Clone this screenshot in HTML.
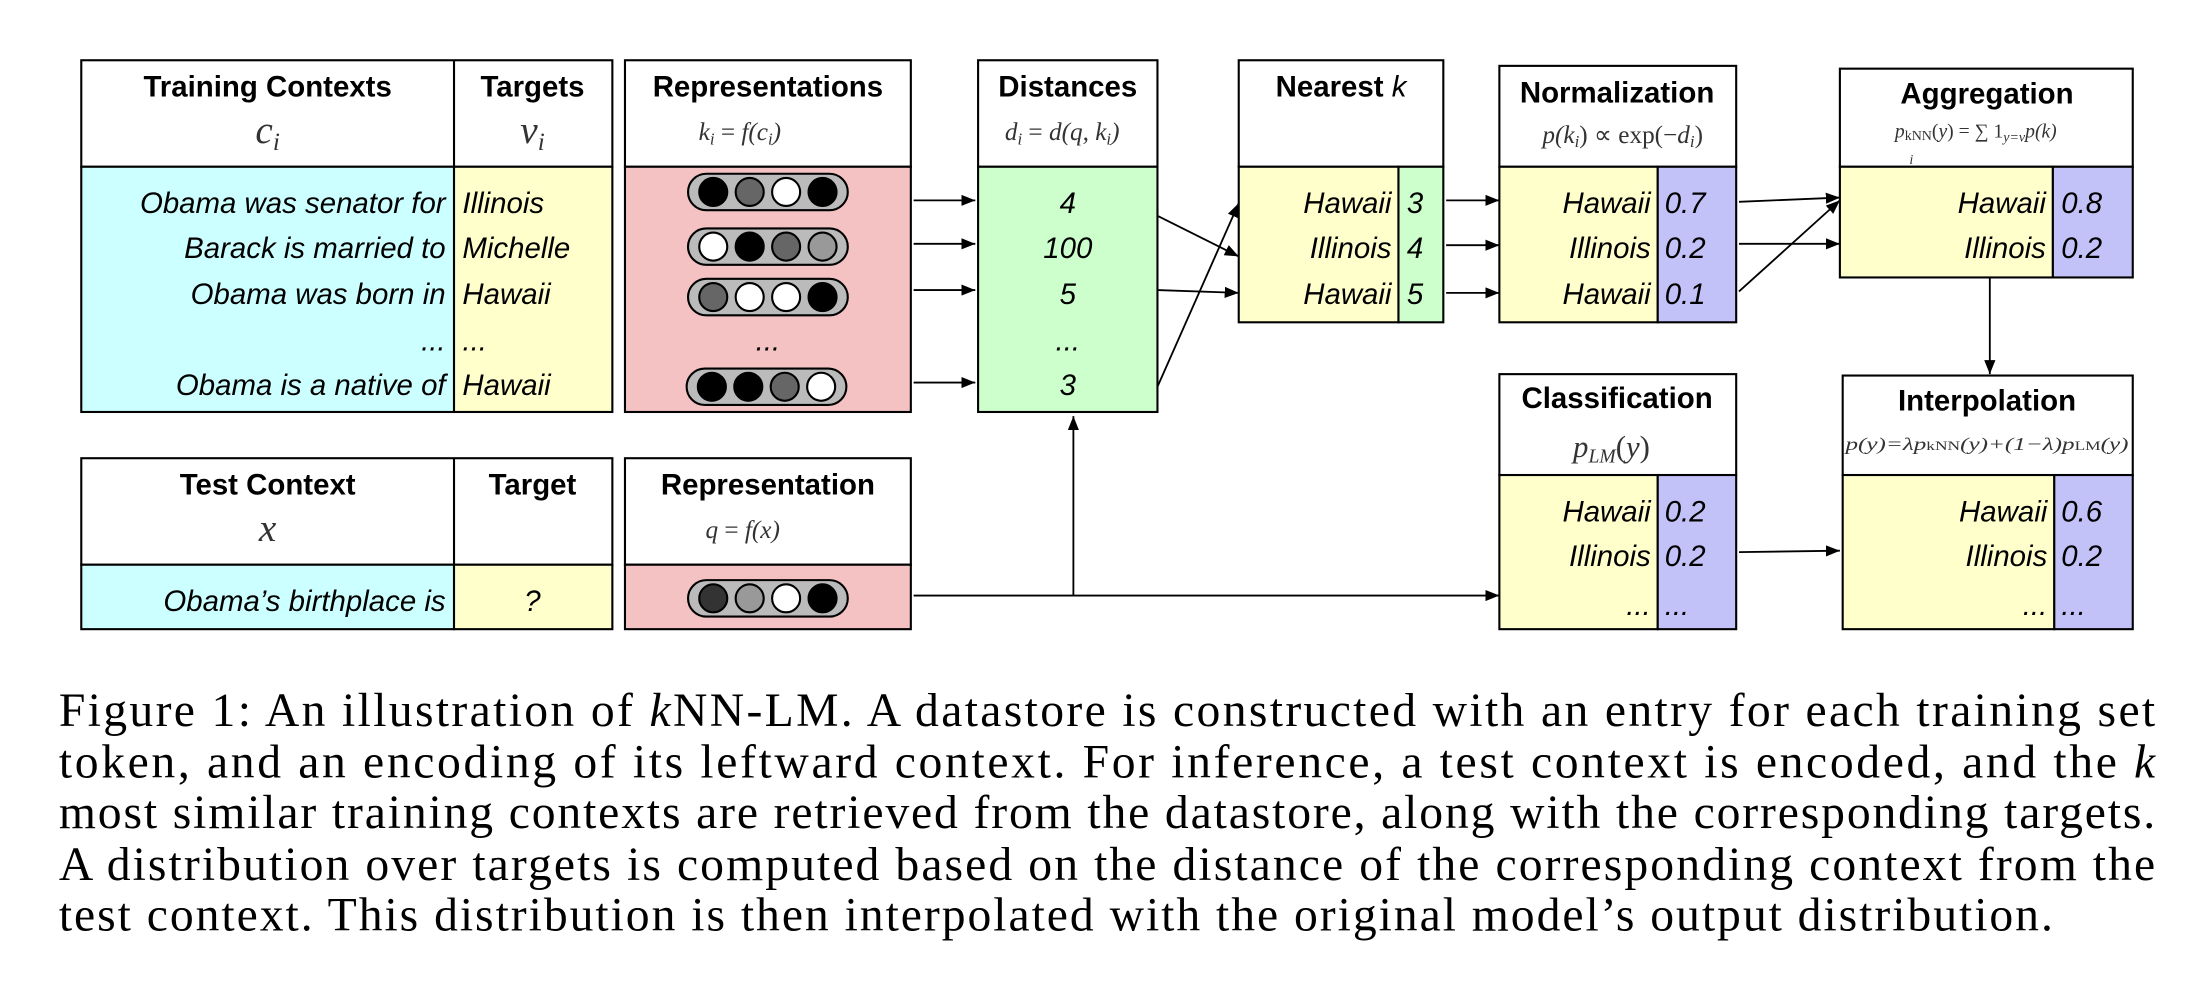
<!DOCTYPE html>
<html><head><meta charset="utf-8"><style>html,body{margin:0;padding:0;background:#fff}svg{display:block}</style></head>
<body>
<svg width="2186" height="990" viewBox="0 0 1560 706.5" preserveAspectRatio="none" xmlns="http://www.w3.org/2000/svg">
<defs><marker id="a" markerWidth="10" markerHeight="8" refX="10" refY="4" orient="auto" markerUnits="userSpaceOnUse"><path d="M0,0 L10,4 L0,8 z" fill="#000"/></marker></defs>
<g font-family="Liberation Sans, sans-serif" stroke="#000" stroke-width="1.5">
<rect x="58" y="43" width="379" height="76" fill="#fff"/>
<rect x="58" y="119" width="266" height="175" fill="#ccffff"/>
<rect x="324" y="119" width="113" height="175" fill="#ffffcc"/>
<line x1="324" y1="43" x2="324" y2="119"/>
<rect x="446" y="43" width="204" height="76" fill="#fff"/>
<rect x="446" y="119" width="204" height="175" fill="#f4c2c2"/>
<rect x="698" y="43" width="128" height="76" fill="#fff"/>
<rect x="698" y="119" width="128" height="175" fill="#ccffcc"/>
<rect x="884" y="43" width="146" height="76" fill="#fff"/>
<rect x="884" y="119" width="114" height="111" fill="#ffffcc"/>
<rect x="998" y="119" width="32" height="111" fill="#ccffcc"/>
<rect x="1070" y="47" width="169" height="72" fill="#fff"/>
<rect x="1070" y="119" width="113" height="111" fill="#ffffcc"/>
<rect x="1183" y="119" width="56" height="111" fill="#c2c2f8"/>
<rect x="1313" y="49" width="209" height="70" fill="#fff"/>
<rect x="1313" y="119" width="152" height="79" fill="#ffffcc"/>
<rect x="1465" y="119" width="57" height="79" fill="#c2c2f8"/>
<rect x="1070" y="267" width="169" height="72" fill="#fff"/>
<rect x="1070" y="339" width="113" height="110" fill="#ffffcc"/>
<rect x="1183" y="339" width="56" height="110" fill="#c2c2f8"/>
<rect x="1315" y="268" width="207" height="71" fill="#fff"/>
<rect x="1315" y="339" width="151" height="110" fill="#ffffcc"/>
<rect x="1466" y="339" width="56" height="110" fill="#c2c2f8"/>
<rect x="58" y="327" width="379" height="76" fill="#fff"/>
<rect x="58" y="403" width="266" height="46" fill="#ccffff"/>
<rect x="324" y="403" width="113" height="46" fill="#ffffcc"/>
<line x1="324" y1="327" x2="324" y2="403"/>
<rect x="446" y="327" width="204" height="76" fill="#fff"/>
<rect x="446" y="403" width="204" height="46" fill="#f4c2c2"/>
</g>
<g stroke="#000" stroke-width="1.3" fill="none" marker-end="url(#a)">
<line x1="652" y1="143" x2="696" y2="143"/>
<line x1="652" y1="174" x2="696" y2="174"/>
<line x1="652" y1="207" x2="696" y2="207"/>
<line x1="652" y1="273" x2="696" y2="273"/>
<line x1="826" y1="154" x2="884" y2="183"/>
<line x1="826" y1="207" x2="884" y2="209"/>
<line x1="826" y1="276" x2="884" y2="145"/>
<line x1="1032" y1="143" x2="1070" y2="143"/>
<line x1="1032" y1="175" x2="1070" y2="175"/>
<line x1="1032" y1="209" x2="1070" y2="209"/>
<line x1="1241" y1="144" x2="1313" y2="141"/>
<line x1="1241" y1="174" x2="1313" y2="174"/>
<line x1="1241" y1="208" x2="1313" y2="143"/>
<line x1="1420" y1="198" x2="1420" y2="267"/>
<line x1="652" y1="425" x2="1070" y2="425"/>
<line x1="766" y1="425" x2="766" y2="297"/>
<line x1="1241" y1="394" x2="1313" y2="393"/>
</g>
<g stroke="#000" stroke-width="1.5">
<g transform="translate(548,137)"><rect x="-57" y="-13" width="114" height="26" rx="13" fill="#bbb"/><circle cx="-39" r="10" fill="#000"/><circle cx="-13" r="10" fill="#666"/><circle cx="13" r="10" fill="#fff"/><circle cx="39" r="10" fill="#000"/></g>
<g transform="translate(548,176)"><rect x="-57" y="-13" width="114" height="26" rx="13" fill="#bbb"/><circle cx="-39" r="10" fill="#fff"/><circle cx="-13" r="10" fill="#000"/><circle cx="13" r="10" fill="#666"/><circle cx="39" r="10" fill="#999"/></g>
<g transform="translate(548,212)"><rect x="-57" y="-13" width="114" height="26" rx="13" fill="#bbb"/><circle cx="-39" r="10" fill="#666"/><circle cx="-13" r="10" fill="#fff"/><circle cx="13" r="10" fill="#fff"/><circle cx="39" r="10" fill="#000"/></g>
<g transform="translate(547,276)"><rect x="-57" y="-13" width="114" height="26" rx="13" fill="#bbb"/><circle cx="-39" r="10" fill="#000"/><circle cx="-13" r="10" fill="#000"/><circle cx="13" r="10" fill="#666"/><circle cx="39" r="10" fill="#fff"/></g>
<g transform="translate(548,427)"><rect x="-57" y="-13" width="114" height="26" rx="13" fill="#bbb"/><circle cx="-39" r="10" fill="#333"/><circle cx="-13" r="10" fill="#999"/><circle cx="13" r="10" fill="#fff"/><circle cx="39" r="10" fill="#000"/></g>
</g>
<g font-family="Liberation Sans, sans-serif" font-weight="bold" font-size="21" text-anchor="middle" fill="#000">
<text x="191" y="69">Training Contexts</text>
<text x="380" y="69">Targets</text>
<text x="548" y="69">Representations</text>
<text x="762" y="69">Distances</text>
<text x="957" y="69">Nearest <tspan font-style="italic" font-weight="normal">k</tspan></text>
<text x="1154" y="73">Normalization</text>
<text x="1418" y="74">Aggregation</text>
<text x="1154" y="291">Classification</text>
<text x="1418" y="293">Interpolation</text>
<text x="191" y="353">Test Context</text>
<text x="380" y="353">Target</text>
<text x="548" y="353">Representation</text>
</g>
<g font-family="Liberation Serif, serif" font-style="italic" fill="#333" text-anchor="middle">
<text x="191" y="102" font-size="28">c<tspan font-size="18" dy="5">i</tspan></text>
<text x="380" y="102" font-size="28">v<tspan font-size="18" dy="5">i</tspan></text>
<text x="528" y="100" font-size="18">k<tspan font-size="12" dy="3">i</tspan><tspan dy="-3" font-style="normal"> = </tspan>f(c<tspan font-size="12" dy="3">i</tspan><tspan dy="-3">)</tspan></text>
<text x="758" y="100" font-size="18">d<tspan font-size="12" dy="3">i</tspan><tspan dy="-3" font-style="normal"> = </tspan>d(q, k<tspan font-size="12" dy="3">i</tspan><tspan dy="-3">)</tspan></text>
<text x="1158" y="102" font-size="18">p(k<tspan font-size="12" dy="3">i</tspan><tspan dy="-3" font-style="normal">) ∝ exp(−</tspan>d<tspan font-size="12" dy="3">i</tspan><tspan dy="-3" font-style="normal">)</tspan></text>
<text x="1410" y="98" font-size="14">p<tspan font-size="10" font-style="normal" dy="2">kNN</tspan><tspan dy="-2" font-style="normal">(</tspan>y<tspan font-style="normal">) = ∑ 1</tspan><tspan font-size="10" dy="3">y=v</tspan><tspan dy="-3">p(k)</tspan></text>
<text x="1364" y="117" font-size="10">i</text>
<text x="1150" y="326" font-size="22">p<tspan font-size="14" dy="4">LM</tspan><tspan dy="-4" font-style="normal">(</tspan>y<tspan font-style="normal">)</tspan></text>
<text x="1418" y="321" font-size="13" textLength="202" lengthAdjust="spacingAndGlyphs">p(y)=λp<tspan font-size="9" font-style="normal">kNN</tspan>(y)+(1−λ)p<tspan font-size="9" font-style="normal">LM</tspan>(y)</text>
<text x="191" y="386" font-size="28">x</text>
<text x="530" y="384" font-size="18">q<tspan font-style="normal"> = </tspan>f(x)</text>
</g>
<g font-family="Liberation Sans, sans-serif" font-style="italic" font-size="21" fill="#000">
<g text-anchor="end">
<text x="318" y="152">Obama was senator for</text>
<text x="318" y="184">Barack is married to</text>
<text x="318" y="217">Obama was born in</text>
<text x="318" y="250">...</text>
<text x="318" y="282">Obama is a native of</text>
<text x="318" y="436">Obama’s birthplace is</text>
<text x="993" y="152">Hawaii</text><text x="993" y="184">Illinois</text><text x="993" y="217">Hawaii</text>
<text x="1178" y="152">Hawaii</text><text x="1178" y="184">Illinois</text><text x="1178" y="217">Hawaii</text>
<text x="1460" y="152">Hawaii</text><text x="1460" y="184">Illinois</text>
<text x="1178" y="372">Hawaii</text><text x="1178" y="404">Illinois</text><text x="1178" y="439">...</text>
<text x="1461" y="372">Hawaii</text><text x="1461" y="404">Illinois</text><text x="1461" y="439">...</text>
</g>
<text x="330" y="152">Illinois</text><text x="330" y="184">Michelle</text><text x="330" y="217">Hawaii</text><text x="330" y="250">...</text><text x="330" y="282">Hawaii</text>
<text x="1004" y="152">3</text><text x="1004" y="184">4</text><text x="1004" y="217">5</text>
<text x="1188" y="152">0.7</text><text x="1188" y="184">0.2</text><text x="1188" y="217">0.1</text>
<text x="1471" y="152">0.8</text><text x="1471" y="184">0.2</text>
<text x="1188" y="372">0.2</text><text x="1188" y="404">0.2</text><text x="1188" y="439">...</text>
<text x="1471" y="372">0.6</text><text x="1471" y="404">0.2</text><text x="1471" y="439">...</text>
<g text-anchor="middle">
<text x="548" y="250">...</text>
<text x="762" y="152">4</text><text x="762" y="184">100</text><text x="762" y="217">5</text><text x="762" y="250">...</text><text x="762" y="282">3</text>
<text x="380" y="436">?</text>
</g>
</g>
<g font-family="Liberation Serif, serif" font-size="34" fill="#000" lengthAdjust="spacingAndGlyphs">
<text x="42" y="518" textLength="1496">Figure 1: An illustration of <tspan font-style="italic">k</tspan>NN-LM. A datastore is constructed with an entry for each training set</text>
<text x="42" y="555" textLength="1496">token, and an encoding of its leftward context.  For inference, a test context is encoded, and the <tspan font-style="italic">k</tspan></text>
<text x="42" y="591" textLength="1496">most similar training contexts are retrieved from the datastore, along with the corresponding targets.</text>
<text x="42" y="628" textLength="1496">A distribution over targets is computed based on the distance of the corresponding context from the</text>
<text x="42" y="664" textLength="1423">test context. This distribution is then interpolated with the original model’s output distribution.</text>
</g>
</svg>
</body></html>
